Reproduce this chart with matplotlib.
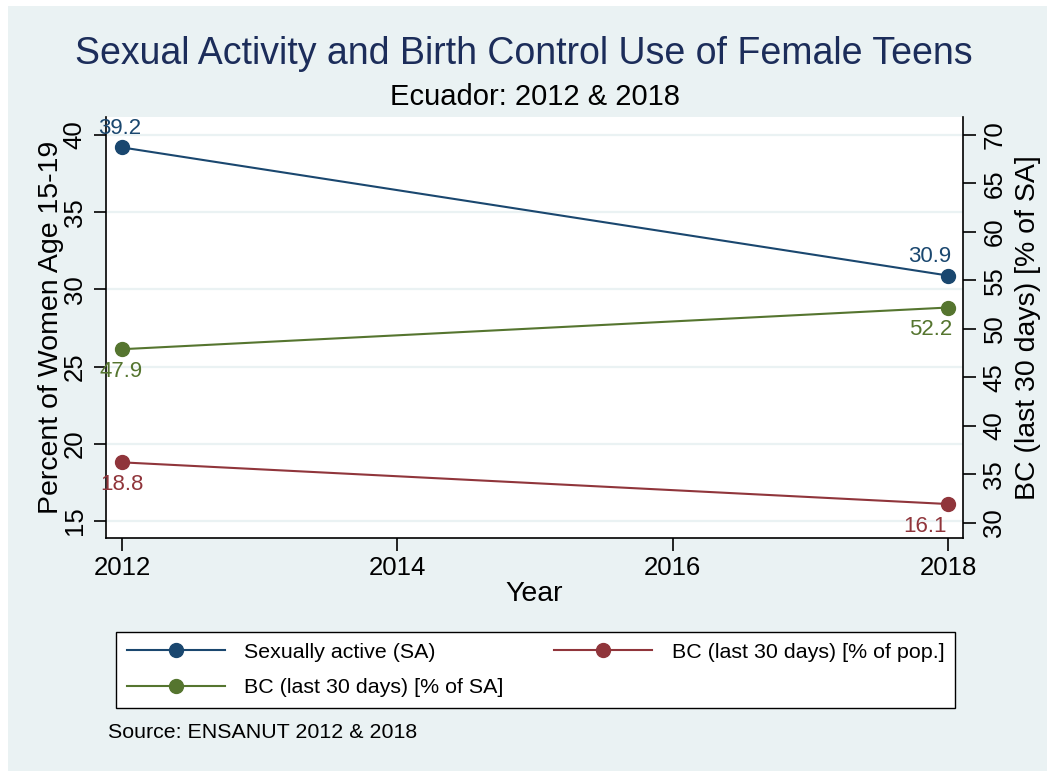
import matplotlib
matplotlib.use('Agg')
import matplotlib.pyplot as plt
from matplotlib.patches import Rectangle
from matplotlib.lines import Line2D

plt.rcParams['font.family'] = ['Liberation Sans', 'DejaVu Sans']

years = [2012, 2018]
sexually_active = [39.2, 30.9]
bc_pop = [18.8, 16.1]
bc_sa = [47.9, 52.2]
x_ticks = [2012, 2014, 2016, 2018]
left_ticks = [15, 20, 25, 30, 35, 40]
right_ticks = [30, 35, 40, 45, 50, 55, 60, 65, 70]

navy = '#1a476f'
maroon = '#90353b'
green = '#55752f'
bg = '#eaf2f3'

fig = plt.figure(figsize=(10.47, 7.71), dpi=100)
fig.patch.set_facecolor('white')
fig.patches.append(Rectangle((8 / 1047, 0), 1, 1 - 6 / 771, transform=fig.transFigure,
                             facecolor=bg, edgecolor='none', zorder=-10))
# clipped stray glyph at the very top
fig.text(182 / 1047, 1 + 12 / 771, 'y', fontsize=17, va='center', ha='center')

ax = fig.add_axes([106 / 1047, 1 - 538 / 771, (963 - 106) / 1047, (538 - 117) / 771])
ax.set_facecolor('white')
ax2 = ax.twinx()

ax.set_xlim(2011.884, 2018.109)
ax.set_ylim(13.9, 41.17)
ax2.set_ylim(28.42, 71.86)

ax.set_yticks(left_ticks)
ax2.set_yticks(right_ticks)
ax.set_xticks(x_ticks)
ax.grid(axis='y', color=bg, linewidth=1.6)
ax.set_axisbelow(True)

for a in (ax, ax2):
    a.spines['top'].set_visible(False)
    a.spines['left'].set_linewidth(1.2)
    a.spines['right'].set_linewidth(1.2)
    a.spines['bottom'].set_linewidth(1.2)
    a.tick_params(length=9, width=1.2, labelsize=18.5, colors='black')
ax.spines['right'].set_visible(False)
ax2.spines['left'].set_visible(False)
ax2.spines['bottom'].set_visible(False)
ax.tick_params(axis='x', pad=4)
ax.tick_params(axis='y', pad=5)
ax2.tick_params(axis='y', pad=5)
for lbl in ax.get_yticklabels() + ax2.get_yticklabels():
    lbl.set_rotation(90)
    lbl.set_va('center')

ax.plot(years, sexually_active, color=navy, marker='o', markersize=10, linewidth=1.5, zorder=3)
ax.plot(years, bc_pop, color=maroon, marker='o', markersize=10, linewidth=1.5, zorder=3)
ax2.plot(years, bc_sa, color=green, marker='o', markersize=10, linewidth=1.5, zorder=3)

for i, (x, v) in enumerate(zip(years, sexually_active)):
    ax.annotate(f'{v}', (x, v), xytext=([-2, -18][i], 19), textcoords='offset pixels',
                ha='center', va='center', color=navy, fontsize=16, annotation_clip=False)
for i, (x, v) in enumerate(zip(years, bc_pop)):
    ax.annotate(f'{v}', (x, v), xytext=([0, -23][i], -22), textcoords='offset pixels',
                ha='center', va='center', color=maroon, fontsize=16, annotation_clip=False)
for i, (x, v) in enumerate(zip(years, bc_sa)):
    ax2.annotate(f'{v}', (x, v), xytext=([-1, -17][i], -22), textcoords='offset pixels',
                 ha='center', va='center', color=green, fontsize=16, annotation_clip=False)

ax.set_xlabel('Year', fontsize=20.5, labelpad=1)
ax.set_ylabel('Percent of Women Age 15-19', fontsize=20.5, labelpad=-1)
ax2.set_ylabel('BC (last 30 days) [% of SA]', fontsize=20.5, labelpad=6)

fig.text(0.5, 1 - 54 / 771, 'Sexual Activity and Birth Control Use of Female Teens',
         ha='center', va='center', fontsize=27, color='#1c2d5a')
fig.text(535 / 1047, 1 - 97 / 771, 'Ecuador: 2012 & 2018', ha='center', va='center', fontsize=21)

# Stata fills the legend row by row; matplotlib fills by column
handles = [
    Line2D([], [], color=navy, marker='o', markersize=10, linewidth=1.5),
    Line2D([], [], color=green, marker='o', markersize=10, linewidth=1.5),
    Line2D([], [], color=maroon, marker='o', markersize=10, linewidth=1.5),
]
labels = ['Sexually active (SA)', 'BC (last 30 days) [% of SA]', 'BC (last 30 days) [% of pop.]']
leg = fig.legend(handles, labels, loc='center', ncol=2,
                 bbox_to_anchor=(116 / 1047, 1 - 713 / 771, (955 - 116) / 1047, (713 - 627) / 771),
                 mode='expand', fontsize=15.4, frameon=True, fancybox=False, handlelength=4.6,
                 borderpad=0.5, labelspacing=0.75, handletextpad=0.9, borderaxespad=0,
                 framealpha=1)
leg.get_frame().set_edgecolor('black')
leg.get_frame().set_linewidth(1.0)
leg.get_frame().set_facecolor('white')

fig.text(108 / 1047, 1 - 733 / 771, 'Source: ENSANUT 2012 & 2018', ha='left', va='center', fontsize=15.4)

fig.savefig('out.png', dpi=100, facecolor=fig.get_facecolor())
